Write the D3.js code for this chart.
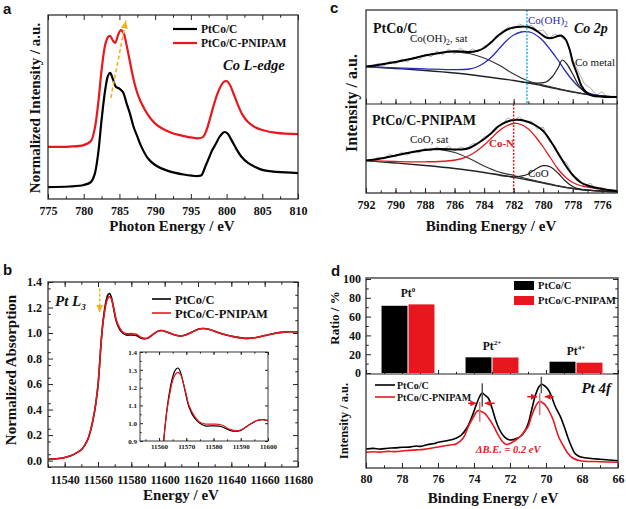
<!DOCTYPE html>
<html>
<head>
<meta charset="utf-8">
<script src="https://cdn.jsdelivr.net/npm/d3@7"></script>
<style>
body { margin: 0; background: #fff; }
svg { display: block; }
</style>
</head>
<body>
<script>
// ---------- data ----------
// (a) Co L-edge XAS, [photon energy eV, normalized intensity]
const coL_PtCoC = [[775,0.065],[778,0.068],[780,0.076],[781,0.092],[781.5,0.13],[782,0.24],[782.5,0.43],[783,0.59],[783.4,0.67],[783.7,0.685],[784.1,0.65],[784.5,0.61],[785,0.6],[785.5,0.58],[786,0.52],[786.5,0.46],[787,0.39],[787.5,0.34],[788,0.29],[789,0.22],[790,0.185],[792,0.15],[794,0.133],[796,0.125],[796.5,0.13],[797,0.174],[797.5,0.22],[798,0.266],[798.5,0.3],[799,0.337],[799.5,0.36],[799.8,0.364],[800.2,0.353],[800.7,0.32],[801.3,0.277],[802,0.234],[803,0.196],[804,0.174],[805,0.158],[807,0.147],[810,0.141]]
const coL_PNIPAM = [[775,0.283],[778,0.285],[780,0.293],[781,0.315],[781.5,0.375],[782,0.51],[782.5,0.7],[783,0.837],[783.4,0.88],[783.7,0.886],[784.1,0.86],[784.4,0.848],[784.8,0.89],[785.2,0.918],[785.6,0.9],[786,0.837],[786.5,0.74],[787,0.647],[787.5,0.576],[788,0.527],[789,0.457],[790,0.41],[792,0.364],[794,0.342],[796,0.33],[796.7,0.337],[797.2,0.375],[797.7,0.44],[798.2,0.51],[798.7,0.57],[799.2,0.614],[799.6,0.636],[800,0.641],[800.4,0.625],[800.9,0.58],[801.5,0.52],[802.2,0.46],[803,0.418],[804,0.39],[805,0.375],[807,0.359],[810,0.353]]
const shiftArrowA = [[783.8,0.55],[785.9,0.97]]

// (b) Pt L3 XANES
const ptL3Energy = [11530,11535,11540,11544,11547,11550,11552,11554,11555,11556,11557,11558,11559,11560,11561,11562,11563,11564,11565,11566,11567,11568,11569,11570,11571,11573,11575,11577,11580,11583,11586,11588,11590,11593,11596,11598,11601,11605,11609,11612,11616,11620,11623,11627,11632,11637,11642,11647,11650,11655,11660,11665,11670,11675,11680]
const ptL3_PtCoC = [0.01,0.015,0.025,0.04,0.06,0.085,0.12,0.17,0.21,0.26,0.32,0.39,0.48,0.59,0.76,0.95,1.09,1.19,1.26,1.3,1.31,1.28,1.22,1.15,1.09,1.03,1.0,0.985,0.985,0.98,0.96,0.955,0.96,0.99,1.015,1.02,1.01,0.99,0.978,0.983,1.005,1.03,1.035,1.028,1.005,0.985,0.97,0.96,0.958,0.965,0.98,0.995,1.005,1.01,1.01]
const ptL3_PNIPAM = [0.01,0.015,0.025,0.04,0.06,0.085,0.12,0.17,0.21,0.26,0.32,0.39,0.48,0.59,0.76,0.95,1.08,1.17,1.24,1.275,1.285,1.27,1.22,1.16,1.1,1.04,1.005,0.995,0.995,0.99,0.965,0.958,0.962,0.99,1.015,1.02,1.01,0.99,0.978,0.983,1.005,1.03,1.035,1.028,1.005,0.985,0.97,0.96,0.958,0.965,0.98,0.995,1.005,1.01,1.01]
const edgeArrowB = [[11561,1.35],[11561,1.16]]

// (c) Co 2p XPS, [binding energy eV, intensity a.u.]
const c1Raw = [[792,38],[791.6,36],[791.2,41],[790.8,38],[790.4,43],[790,40],[789.6,45],[789.2,42],[788.8,47],[788.4,44],[788,50],[787.6,47],[787.2,53],[786.8,49],[786.4,55],[786,50],[785.6,56],[785.2,51],[784.8,55],[784.4,52],[784,58],[783.6,60],[783.2,68],[782.8,70],[782.4,77],[782,75],[781.6,80],[781.2,77],[780.8,79],[780.4,73],[780,74],[779.6,66],[779.2,70],[778.8,67],[778.4,63],[778,44],[777.6,32],[777.2,20],[776.8,16],[776.4,9],[776,12],[775.6,6],[775.2,8],[775,7]]
const c1Bg = [[792,37.3],[790,35.5],[788,33.5],[786,31],[784,27.5],[782,23.5],[781,21],[780,18],[779,15],[778,12],[777,9.5],[776,8],[775,7]]
const c1Sat = [[792,37.5],[791,39.5],[790,42],[789,45],[788,48.5],[787,51],[786.3,52],[785.5,51.5],[785,50.5],[784,46],[783,39],[782,30],[781,23],[780,19],[779,15.5],[778,12.3],[777,9.6],[776,8],[775,7]]
const c1CoOH = [[792,37.3],[790,36.2],[788,35.2],[786,34.3],[785,35],[784.5,37],[784,41],[783.5,47],[783,55],[782.5,63],[782,69],[781.5,72],[781.2,72.3],[780.8,71.5],[780.3,67],[780,63],[779.5,54],[779,44],[778.5,33],[778,23.5],[777.5,16],[777,11.5],[776.5,9],[776,8],[775,7]]
const c1Metal = [[781.5,22],[781,21.3],[780.3,21],[779.8,22],[779.4,27],[779,36],[778.7,44],[778.4,40],[778,30],[777.6,19],[777.2,12],[776.8,9.5],[776,8],[775,7]]
const c1Fit = [[792,37.5],[791,39.5],[790,42],[789,45],[788,48.5],[787,51],[786.3,52.5],[785.5,52.5],[785,52],[784.5,53],[784,56],[783.5,62],[783,69],[782.5,74],[782,76.5],[781.5,77.3],[781.1,77.2],[780.7,75.5],[780.2,70.5],[779.8,66.5],[779.4,66],[779,68],[778.8,68.5],[778.5,65],[778.2,54],[778,42],[777.7,30],[777.4,18],[777.1,12],[776.7,8.5],[776,7.3],[775,7]]
const c2Raw = [[792,33],[791.6,31],[791.2,36],[790.8,34],[790.4,39],[790,36],[789.6,41],[789.2,38],[788.8,42],[788.4,40],[788,45],[787.6,42],[787.2,46],[786.8,43],[786.4,47],[786,42],[785.6,46],[785.2,44],[784.8,49],[784.4,50],[784,56],[783.6,58],[783.2,66],[782.8,68],[782.4,75],[782,72],[781.6,76],[781.2,71],[780.8,72],[780.4,64],[780,66],[779.6,52],[779.2,47],[778.8,34],[778.4,30],[778,17],[777.6,14],[777.2,6],[776.8,10],[776.4,3],[776,6],[775.6,1],[775.2,3],[775,2]]
const c2Bg = [[792,32.3],[790,30],[788,27.5],[786,24.5],[784,20.5],[782,15.7],[781,13],[780,10],[779,7],[778,4.5],[777,2.8],[776,1.8],[775,1.3]]
const c2Sat = [[792,32.5],[791,34.5],[790,37.5],[789,40.5],[788,43],[787.5,43.7],[787,43.3],[786,40.5],[785,34.5],[784,27],[783,21],[782,17.5],[781,14],[780,10.5],[779,7.2],[778,4.6],[777,2.8],[776,1.8],[775,1.3]]
const c2CoN = [[792,32.3],[790,31.5],[788,31.2],[786.5,32],[785.5,34.5],[785,37.5],[784.5,42],[784,48],[783.5,55],[783,62],[782.5,67],[782,69.5],[781.5,68.5],[781,64],[780.5,56],[780,46],[779.5,35],[779,24],[778.5,16],[778,10.5],[777.5,7.5],[777,6],[776,4],[775,2]]
const c2CoO = [[783,17.5],[782.5,16.8],[782,16.2],[781.5,16.8],[781,19],[780.5,24],[780,27.3],[779.5,26],[779,20],[778.5,12],[778,6.5],[777.5,3.8],[777,2.8],[776,1.8],[775,1.3]]
const c2Fit = [[792,32.5],[791,34.5],[790,37.5],[789,40.5],[788,43],[787,44],[786,43.5],[785.5,43.5],[785,45],[784.5,49],[784,54],[783.5,60],[783,67],[782.5,71],[782,73],[781.5,73],[781,71],[780.5,67.5],[780,62],[779.5,52],[779,40],[778.5,28],[778,18],[777.5,11],[777,7.5],[776,4],[775,2]]
const coOHLine = 781.1
const coNLine = 782.0

// (d) Pt oxidation-state ratios and Pt 4f XPS
const ptStates = ['0', '2+', '4+']
const samples = ['PtCo/C', 'PtCo/C-PNIPAM']
const ratioPtCoC = [71.5, 16.7, 12]
const ratioPNIPAM = [73, 16.5, 11]
const pt4f_PtCoC = [[80,19],[79.6,19.6],[79.2,18.9],[78.8,19.8],[78.4,20.1],[78,20.7],[77.6,20.9],[77.2,22],[77,21.6],[76.6,23.3],[76.2,24.5],[76,25.7],[75.6,27],[75.2,28.5],[75,29.7],[74.7,33],[74.4,40],[74.1,52],[73.9,62],[73.7,71],[73.55,75],[73.4,73],[73.2,69.7],[73,60],[72.8,48],[72.6,39],[72.4,33],[72.2,29.5],[72,28],[71.8,28.5],[71.6,29.7],[71.4,32],[71.2,36.3],[71,44],[70.8,58],[70.6,72],[70.4,81],[70.25,83.7],[70.1,82.5],[69.9,79],[69.7,72],[69.5,62],[69.2,51.3],[69,42],[68.8,31.3],[68.6,22],[68.4,14.7],[68.2,12],[68,10.7],[67.5,9.5],[67,8.7],[66.5,8],[66,7.3]]
const pt4f_PNIPAM = [[80,15.7],[79.6,16.2],[79.2,15.9],[78.8,16.6],[78.4,16.4],[78,17],[77.6,17.6],[77.2,18.1],[76.8,18.6],[76.4,19.7],[76,21],[75.6,22.2],[75.2,23.3],[75,24],[74.6,30],[74.3,42],[74,52],[73.8,57.3],[73.6,56.5],[73.4,54.7],[73.2,50],[73,44.7],[72.8,38],[72.6,31.3],[72.4,26],[72.2,23.5],[72,24.5],[71.8,26.5],[71.6,29],[71.4,32],[71.2,36.5],[71,41.3],[70.8,52],[70.6,61],[70.4,66.3],[70.2,65.5],[70,62],[69.8,56],[69.6,48],[69.3,31.3],[69,21],[68.8,15],[68.5,9.7],[68.2,7.7],[68,7],[67,6.3],[66,5.7]]
// peak markers: [energy, from, to, colour]
const peakMarks = [[73.54,84.7,61.3,'#555'],[73.68,66.3,46.3,'#e07070'],[70.26,91.3,74.7,'#555'],[70.35,74.7,53,'#e07070']]
// shift arrows: [from energy, to energy, level]
const shiftArrows = [[74.33,73.87,64.7],[72.85,73.4,64.7],[71.04,70.5,71.3],[69.57,70.07,71.3]]

// ---------- drawing ----------
const RED = '#e8161d', BLUE = '#2b2bbd', CYAN = '#1eb2e8', ORANGE = '#f3b21a'
const SERIF = "'Liberation Serif', 'Times New Roman', serif"

const svg = d3.select('body').append('svg').attr('width', 626).attr('height', 509)
const defs = svg.append('defs')
function arrowHead(id, color, w, h) {
  defs.append('marker').attr('id', id).attr('markerUnits', 'userSpaceOnUse')
    .attr('markerWidth', w).attr('markerHeight', h).attr('refX', w).attr('refY', h / 2).attr('orient', 'auto')
    .append('path').attr('d', `M0,0L${w},${h / 2}L0,${h}Z`).attr('fill', color)
}
arrowHead('arrOrange', ORANGE, 8, 7)
arrowHead('arrRed', RED, 6, 6)

function frame(x0, y0, x1, y1, sw) {
  svg.append('rect').attr('x', x0).attr('y', y0).attr('width', x1 - x0).attr('height', y1 - y0)
    .attr('fill', 'none').attr('stroke', '#222').attr('stroke-width', sw || 1.2)
}

function ticks(orient, scale, pos, major, minor, len, fmt, fs, pad) {
  const make = { bottom: d3.axisBottom, top: d3.axisTop, left: d3.axisLeft, right: d3.axisRight }[orient]
  const tr = (orient === 'bottom' || orient === 'top') ? `translate(0,${pos})` : `translate(${pos},0)`
  const gMinor = svg.append('g').attr('transform', tr)
    .call(make(scale).tickValues(minor).tickSize(-len * 0.55).tickFormat(''))
  const gMajor = svg.append('g').attr('transform', tr)
    .call(make(scale).tickValues(major).tickSize(-len).tickPadding(pad == null ? 6 : pad).tickFormat(fmt || ''))
  for (const g of [gMinor, gMajor]) {
    g.select('.domain').remove()
    g.selectAll('line').attr('stroke', '#222').attr('stroke-width', 1)
  }
  gMajor.selectAll('text').attr('font-family', SERIF).attr('font-weight', 'bold')
    .attr('font-size', fs || 12).attr('fill', '#111')
}

function txt(x, y, s, size, o) {
  o = o || {}
  const t = svg.append('text').attr('x', x).attr('y', y).text(s)
    .attr('font-family', o.sans ? "'Liberation Sans', Arial, sans-serif" : SERIF)
    .attr('font-size', size).attr('font-weight', o.weight || 'bold')
    .attr('font-style', o.italic ? 'italic' : 'normal')
    .attr('fill', o.color || '#111').attr('text-anchor', o.anchor || 'start')
  if (o.rotate) t.attr('transform', `rotate(-90,${x},${y})`)
  return t
}

function curve(data, xs, ys, color, width, smooth) {
  svg.append('path').datum(data)
    .attr('d', d3.line().x(d => xs(d[0])).y(d => ys(d[1]))
      .curve(smooth === false ? d3.curveLinear : d3.curveCatmullRom.alpha(0.5)))
    .attr('fill', 'none').attr('stroke', color).attr('stroke-width', width)
    .attr('stroke-linejoin', 'round')
}

// ===== panel a =====
const xA = d3.scaleLinear().domain([775, 810]).range([48, 298])
const yA = d3.scaleLinear().domain([0, 1]).range([199, 15])
curve(coL_PtCoC, xA, yA, '#000', 2.2)
curve(coL_PNIPAM, xA, yA, RED, 2.2)
svg.append('line')
  .attr('x1', xA(shiftArrowA[0][0])).attr('y1', yA(shiftArrowA[0][1]))
  .attr('x2', xA(shiftArrowA[1][0])).attr('y2', yA(shiftArrowA[1][1]))
  .attr('stroke', ORANGE).attr('stroke-width', 1.6).attr('stroke-dasharray', '4,2.5')
  .attr('marker-end', 'url(#arrOrange)')
frame(48, 15, 298, 199)
ticks('bottom', xA, 199, d3.range(775, 811, 5), d3.range(777.5, 810, 5), 5, d => d, 12, 7)
ticks('top', xA, 15, d3.range(775, 811, 5), d3.range(777.5, 810, 5), 5)
svg.append('line').attr('x1', 173).attr('x2', 197).attr('y1', 29).attr('y2', 29).attr('stroke', '#000').attr('stroke-width', 2.2)
svg.append('line').attr('x1', 173).attr('x2', 197).attr('y1', 43).attr('y2', 43).attr('stroke', RED).attr('stroke-width', 2.2)
txt(201, 33, samples[0], 11.5)
txt(201, 47, samples[1], 11.5)
txt(223, 70, 'Co L-edge', 14.5, { italic: true })
txt(172, 231, 'Photon Energy / eV', 15, { anchor: 'middle' })
txt(40, 108, 'Normalized Intensity / a.u.', 15, { anchor: 'middle', rotate: true })
txt(3, 14, 'a', 15, { sans: true })

// ===== panel b =====
const xB = d3.scaleLinear().domain([11530, 11680]).range([48, 298])
const yB = d3.scaleLinear().domain([-0.05, 1.4]).range([467, 282])
const l3Black = ptL3Energy.map((e, i) => [e, ptL3_PtCoC[i]])
const l3Red = ptL3Energy.map((e, i) => [e, ptL3_PNIPAM[i]])
curve(l3Black, xB, yB, '#000', 1.6)
curve(l3Red, xB, yB, RED, 1.6)
svg.append('line')
  .attr('x1', xB(edgeArrowB[0][0])).attr('y1', yB(edgeArrowB[0][1]))
  .attr('x2', xB(edgeArrowB[1][0])).attr('y2', yB(edgeArrowB[1][1]))
  .attr('stroke', ORANGE).attr('stroke-width', 1.5).attr('stroke-dasharray', '3,2')
  .attr('marker-end', 'url(#arrOrange)')
frame(48, 282, 298, 467)
ticks('bottom', xB, 467, d3.range(11540, 11681, 20), d3.range(11530, 11681, 10), 5, d => d, 12, 8)
ticks('top', xB, 282, d3.range(11540, 11681, 20), d3.range(11530, 11681, 10), 5)
ticks('left', yB, 48, d3.range(0, 1.41, 0.2), d3.range(-0.05, 1.41, 0.1).map(v => +v.toFixed(2)), 5, d3.format('.1f'), 12, 6)
ticks('right', yB, 298, d3.range(0, 1.41, 0.2), d3.range(0.1, 1.41, 0.2), 5)
svg.append('line').attr('x1', 152).attr('x2', 171).attr('y1', 299).attr('y2', 299).attr('stroke', '#000').attr('stroke-width', 1.6)
svg.append('line').attr('x1', 152).attr('x2', 171).attr('y1', 313).attr('y2', 313).attr('stroke', RED).attr('stroke-width', 1.6)
txt(175, 303.5, samples[0], 12.5)
txt(175, 317.5, samples[1], 12.5)
const ptL = txt(55, 306, 'Pt L', 15, { italic: true })
ptL.append('tspan').attr('font-size', 9).attr('dy', 4).text('3')
txt(181, 500, 'Energy / eV', 15, { anchor: 'middle' })
txt(16, 370, 'Normalized Absorption', 15, { anchor: 'middle', rotate: true })
txt(3, 275, 'b', 15, { sans: true })

// inset
const xIn = d3.scaleLinear().domain([11553, 11600]).range([140, 268])
const yIn = d3.scaleLinear().domain([0.9, 1.4]).range([441, 352])
defs.append('clipPath').attr('id', 'clipInset').append('rect').attr('x', 140).attr('y', 352).attr('width', 128).attr('height', 89)
svg.append('rect').attr('x', 140).attr('y', 352).attr('width', 128).attr('height', 89).attr('fill', '#fff')
const inset = svg.append('g').attr('clip-path', 'url(#clipInset)')
for (const [data, color] of [[l3Black, '#000'], [l3Red, RED]]) {
  inset.append('path').datum(data)
    .attr('d', d3.line().x(d => xIn(d[0])).y(d => yIn(d[1])).curve(d3.curveCatmullRom.alpha(0.5)))
    .attr('fill', 'none').attr('stroke', color).attr('stroke-width', 1.2)
}
frame(140, 352, 268, 441, 0.9)
ticks('bottom', xIn, 441, d3.range(11560, 11601, 10), d3.range(11555, 11601, 5), 3, d => d, 7, 3)
ticks('top', xIn, 352, d3.range(11560, 11601, 10), d3.range(11555, 11601, 5), 3)
ticks('left', yIn, 140, d3.range(0.9, 1.41, 0.1).map(v => +v.toFixed(1)), d3.range(0.95, 1.4, 0.1).map(v => +v.toFixed(2)), 3, d3.format('.1f'), 7, 3)
ticks('right', yIn, 268, d3.range(0.9, 1.41, 0.1).map(v => +v.toFixed(1)), [], 3)

// ===== panel c =====
const xC = d3.scaleLinear().domain([792, 775]).range([366, 617])
const yC1 = d3.scaleLinear().domain([0, 94]).range([104, 10])
const yC2 = d3.scaleLinear().domain([0, 89]).range([193, 104])
curve(c1Raw, xC, yC1, '#9a9a9a', 0.8, false)
curve(c1Bg, xC, yC1, '#222', 1.3)
curve(c1Sat, xC, yC1, '#333', 1.2)
curve(c1CoOH, xC, yC1, BLUE, 1.3)
curve(c1Metal, xC, yC1, '#222', 1.2)
curve(c1Fit, xC, yC1, '#000', 2)
curve(c2Raw, xC, yC2, '#9a9a9a', 0.8, false)
curve(c2Bg, xC, yC2, '#222', 1.3)
curve(c2Sat, xC, yC2, '#333', 1.2)
curve(c2CoN, xC, yC2, RED, 1.3)
curve(c2CoO, xC, yC2, '#222', 1.2)
curve(c2Fit, xC, yC2, '#000', 2)
svg.append('line').attr('x1', xC(coOHLine)).attr('x2', xC(coOHLine)).attr('y1', 10).attr('y2', 104)
  .attr('stroke', CYAN).attr('stroke-width', 1.5).attr('stroke-dasharray', '2,1.5')
svg.append('line').attr('x1', xC(coNLine)).attr('x2', xC(coNLine)).attr('y1', 104).attr('y2', 193)
  .attr('stroke', RED).attr('stroke-width', 1.5).attr('stroke-dasharray', '2,1.5')
frame(366, 10, 617, 193)
svg.append('line').attr('x1', 366).attr('x2', 617).attr('y1', 104).attr('y2', 104).attr('stroke', '#222').attr('stroke-width', 1.2)
ticks('bottom', xC, 193, d3.range(776, 793, 2), d3.range(775, 793, 1), 5, d => d, 12, 7)
ticks('bottom', xC, 104, d3.range(776, 793, 2), d3.range(775, 793, 1), 5)
txt(373, 33, samples[0], 14)
txt(574, 33, 'Co 2p', 14, { italic: true })
const sat1 = txt(410, 42, 'Co(OH)', 11, { weight: 'normal' })
sat1.append('tspan').attr('font-size', 7.5).attr('dy', 3).text('2')
sat1.append('tspan').attr('dy', -3).text(', sat')
const oh = txt(528, 24, 'Co(OH)', 11, { color: BLUE, weight: 'normal' })
oh.append('tspan').attr('font-size', 7.5).attr('dy', 3).text('2')
txt(575, 66, 'Co metal', 11, { weight: 'normal' })
txt(372, 125, samples[1], 14)
txt(410, 143, 'CoO, sat', 11, { weight: 'normal' })
txt(489, 147, 'Co-N', 11, { color: RED })
txt(528, 177, 'CoO', 11, { weight: 'normal' })
txt(491, 231, 'Binding Energy / eV', 15, { anchor: 'middle' })
txt(357, 103, 'Intensity / a.u.', 16, { anchor: 'middle', rotate: true })
txt(330, 13, 'c', 15, { sans: true })

// ===== panel d =====
const xD = d3.scaleLinear().domain([80, 66]).range([366, 618])
const yLow = d3.scaleLinear().domain([0, 94]).range([468, 374])
const yBar = d3.scaleLinear().domain([0, 100]).range([373, 279])
const xBand = d3.scaleBand().domain(ptStates).range([366, 618]).paddingInner(0.37).paddingOuter(0.185)
const xSub = d3.scaleBand().domain(samples).range([0, xBand.bandwidth()]).paddingInner(0.04)

ticks('bottom', xD, 374, d3.range(66, 81, 2), d3.range(66, 81, 1), 4)
const barRows = ptStates.map((s, i) => ({ state: s, vals: [ratioPtCoC[i], ratioPNIPAM[i]] }))
svg.selectAll('.bar-group')
  .data(barRows)
  .enter()
  .append('g')
  .attr('transform', d => `translate(${xBand(d.state)},0)`)
  .selectAll('rect')
  .data(d => d.vals.map((v, j) => ({ name: samples[j], v })))
  .enter()
  .append('rect')
  .attr('x', d => xSub(d.name))
  .attr('y', d => yBar(d.v))
  .attr('width', xSub.bandwidth())
  .attr('height', d => yBar(0) - yBar(d.v))
  .attr('fill', d => d.name === samples[0] ? '#000' : RED)
barRows.forEach(d => {
  const t = txt(xBand(d.state) + xBand.bandwidth() / 2, yBar(Math.max(...d.vals)) - 7, 'Pt', 11.5, { anchor: 'middle' })
  t.append('tspan').attr('font-size', 7).attr('dy', -5).text(d.state)
})
curve(pt4f_PtCoC, xD, yLow, '#000', 1.6)
curve(pt4f_PNIPAM, xD, yLow, RED, 1.6)
peakMarks.forEach(m => {
  svg.append('line').attr('x1', xD(m[0])).attr('x2', xD(m[0])).attr('y1', yLow(m[1])).attr('y2', yLow(m[2]))
    .attr('stroke', m[3]).attr('stroke-width', 1.5)
})
shiftArrows.forEach(a => {
  svg.append('line').attr('x1', xD(a[0])).attr('x2', xD(a[1])).attr('y1', yLow(a[2])).attr('y2', yLow(a[2]))
    .attr('stroke', RED).attr('stroke-width', 1.5).attr('marker-end', 'url(#arrRed)')
})
frame(366, 278, 618, 468)
svg.append('line').attr('x1', 366).attr('x2', 618).attr('y1', 374).attr('y2', 374).attr('stroke', '#222').attr('stroke-width', 1.2)
ticks('left', yBar, 366, d3.range(0, 101, 20), d3.range(10, 100, 20), 5, d => d, 12, 5)
ticks('right', yBar, 618, d3.range(0, 101, 20), d3.range(10, 100, 20), 5)
ticks('bottom', xD, 468, d3.range(66, 81, 2), d3.range(66, 81, 1), 5, d => d, 12, 6)
svg.append('rect').attr('x', 514).attr('y', 281).attr('width', 20).attr('height', 9).attr('fill', '#000')
svg.append('rect').attr('x', 514).attr('y', 296).attr('width', 20).attr('height', 9).attr('fill', RED)
txt(538, 289, samples[0], 10.5)
txt(538, 304, samples[1], 10.5)
svg.append('line').attr('x1', 375).attr('x2', 395).attr('y1', 385).attr('y2', 385).attr('stroke', '#000').attr('stroke-width', 1.6)
svg.append('line').attr('x1', 375).attr('x2', 395).attr('y1', 397).attr('y2', 397).attr('stroke', RED).attr('stroke-width', 1.6)
txt(397, 389, samples[0], 10)
txt(397, 401, samples[1], 10)
txt(611, 393, 'Pt 4f', 15, { italic: true, anchor: 'end' })
txt(476, 453, '\u0394B.E. = 0.2 eV', 10.5, { italic: true, color: RED })
txt(493, 503, 'Binding Energy / eV', 15, { anchor: 'middle' })
txt(339, 318, 'Ratio / %', 13, { anchor: 'middle', rotate: true })
txt(348, 421, 'Intensity / a.u.', 12.5, { anchor: 'middle', rotate: true })
txt(331, 276, 'd', 15, { sans: true })
</script>
</body>
</html>
